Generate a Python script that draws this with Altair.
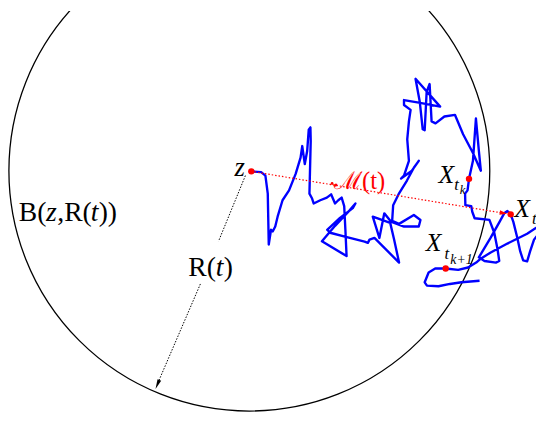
import altair as alt
import pandas as pd

# Brownian path (screen coordinates)
path_x = [255, 265, 269.3, 271.7, 272.7, 275, 276.7, 279.3, 281.7, 286.7, 293.3, 300, 305, 306.7, 309.3, 311.7, 313.3, 315, 315.3, 314,
          316.7, 318.3, 325, 331.7, 336, 340, 343.3, 346.7, 349.3,
          350.5, 351.7, 326.7, 340, 355, 360.7, 358, 345, 332, 335, 350, 370, 373.3, 375, 380, 405, 400, 396, 378.3, 385, 390,
          396.7, 410, 425, 426.7, 420, 405, 398, 399, 405, 413, 420, 425, 418, 407, 410, 415, 413.3, 415, 416.7, 410, 410, 425,
          446.7, 421.7, 426, 429, 431, 433, 436, 438, 442, 451, 461.7, 470, 480, 488, 486, 483, 480, 476, 474.5, 472, 472.3,
          478.3, 479.3, 481.7, 496.7, 501.7, 505, 506.7, 503.3, 491.7, 486, 498, 507, 511.7, 515, 518.3, 521, 525, 528, 531,
          535, 538, 542, 550,
          550, 535, 515, 498, 487, 483.3, 475, 465, 452.3, 441.7, 435, 431, 433.3, 445, 456.7, 468.3, 486.7]
path_y = [170.7, 171.5, 175, 193.3, 245, 230, 231.7, 226.7, 216.7, 200, 190, 173.3, 156.7, 145, 163.3, 150, 128.3, 126, 140, 193.3,
          198.3, 203.3, 200, 197.3, 194, 203.3, 200, 197.3, 206,
          230, 256.7, 241.7, 226, 210, 203.3, 208, 218, 230, 233, 237, 242, 243.3, 240, 238.3, 263.3, 240, 223, 216.7, 238.3, 213.3,
          221.7, 226.7, 226.7, 220, 215, 224, 221, 205, 193, 180, 167, 160, 170, 178, 175, 160, 138.3, 120, 108.3, 103.3, 98.3, 101,
          105, 76.7, 100, 128, 129, 90, 82, 120, 122, 115, 113.3, 133, 152, 170, 150, 117, 160, 178.3, 190, 193.3, 205,
          206, 211.7, 218.3, 220, 233.3, 250, 261.7, 263.3, 261.7, 258, 238, 222, 213.3, 211, 214.3, 222, 238, 252, 261,
          262, 252, 240, 230,
          224, 234, 244, 253, 260, 263.3, 268.3, 270.7, 269.3, 269.3, 273.3, 283.3, 286.7, 287.3, 285, 283.3, 281.7]

# Ball B(z, R(t))
ball_cx = [253]
ball_cy = [170]
ball_r = 244

# marked points: z, X_{t_k}, X_{t_{k+1}}, X_t
pts_x = [255, 476, 452.3, 518.3]
pts_y = [170.7, 178.3, 269.3, 214.3]
small_dot_x = [337]
small_dot_y = [183]

# red dotted segment z -> X_t
red_x = [255, 512]
red_y = [170.7, 213.3]
red_head_x = [511]
red_head_y = [213.1]

# black dotted radius arrow (two pieces around the label)
rad_x = [249, 221.7, 203.3, 159.5]
rad_y = [175, 241.7, 285, 387]
rad_seg = [0, 0, 1, 1]
head_x = [159.7]
head_y = [387.1]

# text pieces
txt = ["B(", "z", ",R(", "t", "))", "R(", "t", ")", "z",
       "X", "t", "k", "X", "t", "k+1", "X", "t",
       "ℳ(t)"]
txt_x = [19, 46.5, 58, 92, 100, 191, 219, 227, 238,
         445, 461, 466.5, 432, 451, 457, 522, 540,
         339]
txt_y = [221, 221, 221, 221, 221, 277, 277, 277, 175,
         182, 190, 194, 251.7, 260, 265, 217, 224,
         188.3]
txt_size = [28, 28, 28, 28, 28, 28, 28, 28, 27,
            26, 17, 13, 26, 17, 14, 26, 17,
            25]
txt_italic = [0, 1, 0, 1, 0, 0, 1, 0, 1,
              1, 1, 1, 1, 1, 1, 1, 1,
              0]
txt_color = ["black"] * 17 + ["#ff0000"]

W, H = 536, 415
xs = alt.Scale(domain=[8, 544], nice=False, zero=False)
ys = alt.Scale(domain=[8, 423], nice=False, zero=False, reverse=True)


def X(f="x"):
    return alt.X(f"{f}:Q", scale=xs, axis=None)


def Y(f="y"):
    return alt.Y(f"{f}:Q", scale=ys, axis=None)


path_df = pd.DataFrame({"x": path_x, "y": path_y, "i": list(range(len(path_x)))})
ball_df = pd.DataFrame({"x": ball_cx, "y": ball_cy})
pts_df = pd.DataFrame({"x": pts_x, "y": pts_y})
small_df = pd.DataFrame({"x": small_dot_x, "y": small_dot_y})
red_df = pd.DataFrame({"x": red_x, "y": red_y, "i": [0, 1]})
redh_df = pd.DataFrame({"x": red_head_x, "y": red_head_y})
rad_df = pd.DataFrame({"x": rad_x, "y": rad_y, "s": rad_seg, "i": [0, 1, 2, 3]})
head_df = pd.DataFrame({"x": head_x, "y": head_y})
txt_df = pd.DataFrame({"x": txt_x, "y": txt_y, "t": txt, "size": txt_size,
                       "it": txt_italic, "c": txt_color})

ball = alt.Chart(ball_df).mark_arc(filled=False, stroke="black", strokeWidth=1.3,
                                   radius=ball_r, theta=0, theta2=6.2832, clip=True).encode(x=X(), y=Y())

red_line = alt.Chart(red_df).mark_line(color="#ff0000", strokeWidth=1.2, strokeDash=[1.5, 2],
                                       clip=True).encode(x=X(), y=Y(), order="i:Q")
red_head = alt.Chart(redh_df).mark_point(shape="M0,-1L0.6,1L-0.6,1Z", filled=True, color="#ff0000",
                                         size=60, angle=99, opacity=1).encode(x=X(), y=Y())

rad_line = alt.Chart(rad_df).mark_line(color="black", strokeWidth=1, strokeDash=[1.5, 1.5],
                                       clip=True).encode(x=X(), y=Y(), detail="s:N", order="i:Q")
rad_head = alt.Chart(head_df).mark_point(shape="M0,-1L0.4,1L-0.4,1Z", filled=True, color="black",
                                         size=100, angle=203, opacity=1).encode(x=X(), y=Y())

bm = alt.Chart(path_df).mark_line(color="#0000ff", strokeWidth=2.4, strokeJoin="round",
                                  clip=True).encode(x=X(), y=Y(), order="i:Q")

dots = alt.Chart(pts_df).mark_point(filled=True, color="#ff0000", size=42, opacity=1).encode(x=X(), y=Y())
small = alt.Chart(small_df).mark_point(filled=True, color="#ff0000", size=8, opacity=1).encode(x=X(), y=Y())

base_txt = alt.Chart(txt_df)
t_up = base_txt.transform_filter("datum.it == 0").mark_text(
    font="Liberation Serif, DejaVu Serif", align="left", baseline="alphabetic").encode(
    x=X(), y=Y(), text="t:N", size=alt.Size("size:Q", scale=None), color=alt.Color("c:N", scale=None))
t_it = base_txt.transform_filter("datum.it == 1").mark_text(
    font="Liberation Serif, DejaVu Serif", fontStyle="italic", align="left", baseline="alphabetic").encode(
    x=X(), y=Y(), text="t:N", size=alt.Size("size:Q", scale=None), color=alt.Color("c:N", scale=None))

chart = alt.layer(ball, rad_line, rad_head, bm, red_line, red_head, dots, small, t_up, t_it).properties(
    width=W, height=H, padding=0, autosize=alt.AutoSizeParams(type="none"), background="white"
).configure_view(stroke=None)

chart.save("out.html", embed_options={"renderer": "svg", "actions": False})
